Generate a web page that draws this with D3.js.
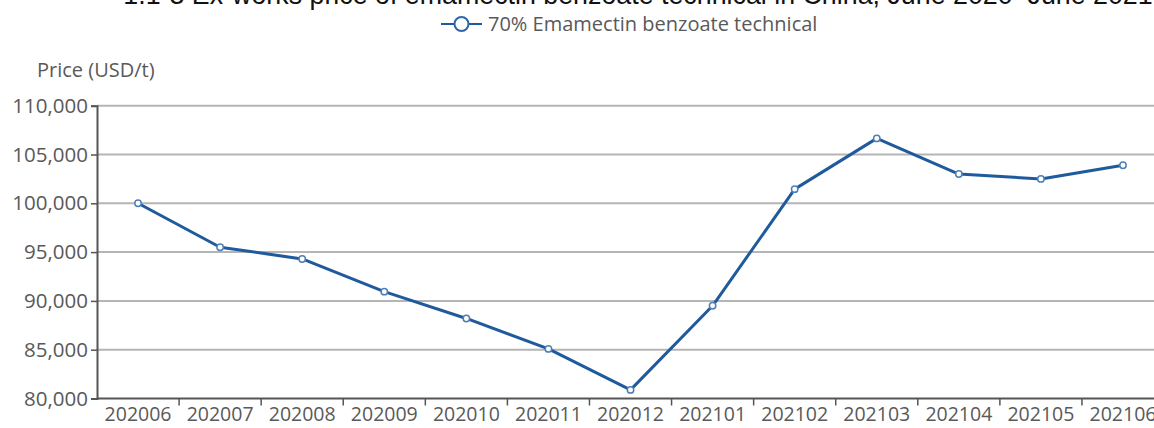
<!DOCTYPE html>
<html>
<head>
<meta charset="utf-8">
<script src="https://cdn.jsdelivr.net/npm/d3@7"></script>
<style>
  body { margin: 0; background: #fff; overflow: hidden; }
  svg { display: block; }
</style>
</head>
<body>
<div id="chart"></div>
<script>
var months = ["202006", "202007", "202008", "202009", "202010", "202011", "202012",
              "202101", "202102", "202103", "202104", "202105", "202106"];
var prices = [100000, 95500, 94300, 90950, 88200, 85080, 80880,
              89500, 101450, 106650, 103000, 102500, 103900];
var yTicks = [80000, 85000, 90000, 95000, 100000, 105000, 110000];
var seriesName = "70% Emamectin benzoate technical";
var titleText = "1.1-3 Ex-works price of emamectin benzoate technical in China, June 2020\u2013June 2021";
var yTitle = "Price (USD/t)";

var width = 1154, height = 428;
var plotLeft = 97, plotTop = 105.7, plotBottom = 398.5;
var bandW = 82.08;

var svg = d3.select("#chart").append("svg")
  .attr("width", width)
  .attr("height", height);

var x = d3.scaleBand()
  .domain(months)
  .range([plotLeft, plotLeft + bandW * months.length]);

var y = d3.scaleLinear()
  .domain([80000, 110000])
  .range([plotBottom, plotTop]);

var fmt = d3.format(",");
var labelFont = "'Open Sans', 'Noto Sans', sans-serif";

// gridlines
svg.append("g")
  .selectAll("line")
  .data(yTicks.filter(function(d) { return d > 80000; }))
  .enter().append("line")
  .attr("x1", plotLeft)
  .attr("x2", width)
  .attr("y1", function(d) { return y(d); })
  .attr("y2", function(d) { return y(d); })
  .attr("stroke", "#b5b5b5")
  .attr("stroke-width", 2);

// y axis
var yAxis = svg.append("g")
  .attr("transform", "translate(" + plotLeft + ",0)")
  .call(d3.axisLeft(y).tickValues(yTicks).tickFormat(fmt).tickSize(6).tickPadding(3));
yAxis.select(".domain").attr("stroke", "#555").attr("stroke-width", 2);
yAxis.selectAll(".tick line").attr("stroke", "#555").attr("stroke-width", 1.5);
yAxis.selectAll(".tick text")
  .attr("fill", "#595959")
  .style("font-family", labelFont)
  .style("font-size", "20.5px");

// x axis, ticks between the categories
var xAxis = svg.append("g")
  .attr("transform", "translate(0," + plotBottom + ")")
  .call(d3.axisBottom(x).tickSize(0).tickPadding(9));
xAxis.select(".domain").remove();
xAxis.append("line")
  .attr("x1", plotLeft)
  .attr("x2", width)
  .attr("stroke", "#555")
  .attr("stroke-width", 2);
xAxis.selectAll(".sep")
  .data(months.slice(1))
  .enter().append("line")
  .attr("class", "sep")
  .attr("x1", function(d) { return x(d); })
  .attr("x2", function(d) { return x(d); })
  .attr("y1", 0)
  .attr("y2", 7)
  .attr("stroke", "#555")
  .attr("stroke-width", 1.5);
xAxis.selectAll(".tick text")
  .attr("fill", "#595959")
  .style("font-family", labelFont)
  .style("font-size", "19.5px");

// line
var line = d3.line()
  .x(function(d, i) { return x(months[i]) + x.bandwidth() / 2; })
  .y(function(d) { return y(d); });

svg.append("path")
  .datum(prices)
  .attr("d", line)
  .attr("fill", "none")
  .attr("stroke", "#1f5a9c")
  .attr("stroke-width", 3)
  .attr("stroke-linejoin", "round");

svg.append("g")
  .selectAll("circle")
  .data(prices)
  .enter().append("circle")
  .attr("cx", function(d, i) { return x(months[i]) + x.bandwidth() / 2; })
  .attr("cy", function(d) { return y(d); })
  .attr("r", 3.2)
  .attr("fill", "#fff")
  .attr("stroke", "#4f7fb8")
  .attr("stroke-width", 1.5);

// title (clipped by the top edge)
svg.append("text")
  .attr("x", 638)
  .attr("y", 3.5)
  .attr("text-anchor", "middle")
  .attr("fill", "#111")
  .style("font-family", "'Liberation Sans', Arial, sans-serif")
  .style("font-size", "26.8px")
  .text(titleText);

// legend
var lg = svg.append("g").attr("transform", "translate(441,24)");
lg.append("line")
  .attr("x1", 0).attr("x2", 41)
  .attr("stroke", "#1f5a9c")
  .attr("stroke-width", 2);
lg.append("circle")
  .attr("cx", 20.5).attr("r", 7)
  .attr("fill", "#fff")
  .attr("stroke", "#2f66a8")
  .attr("stroke-width", 2);
lg.append("text")
  .attr("x", 47)
  .attr("dy", "0.35em")
  .attr("fill", "#595959")
  .style("font-family", labelFont)
  .style("font-size", "20px")
  .text(seriesName);

// y axis title
svg.append("text")
  .attr("x", 37)
  .attr("y", 77)
  .attr("fill", "#595959")
  .style("font-family", labelFont)
  .style("font-size", "20px")
  .text(yTitle);
</script>
</body>
</html>
